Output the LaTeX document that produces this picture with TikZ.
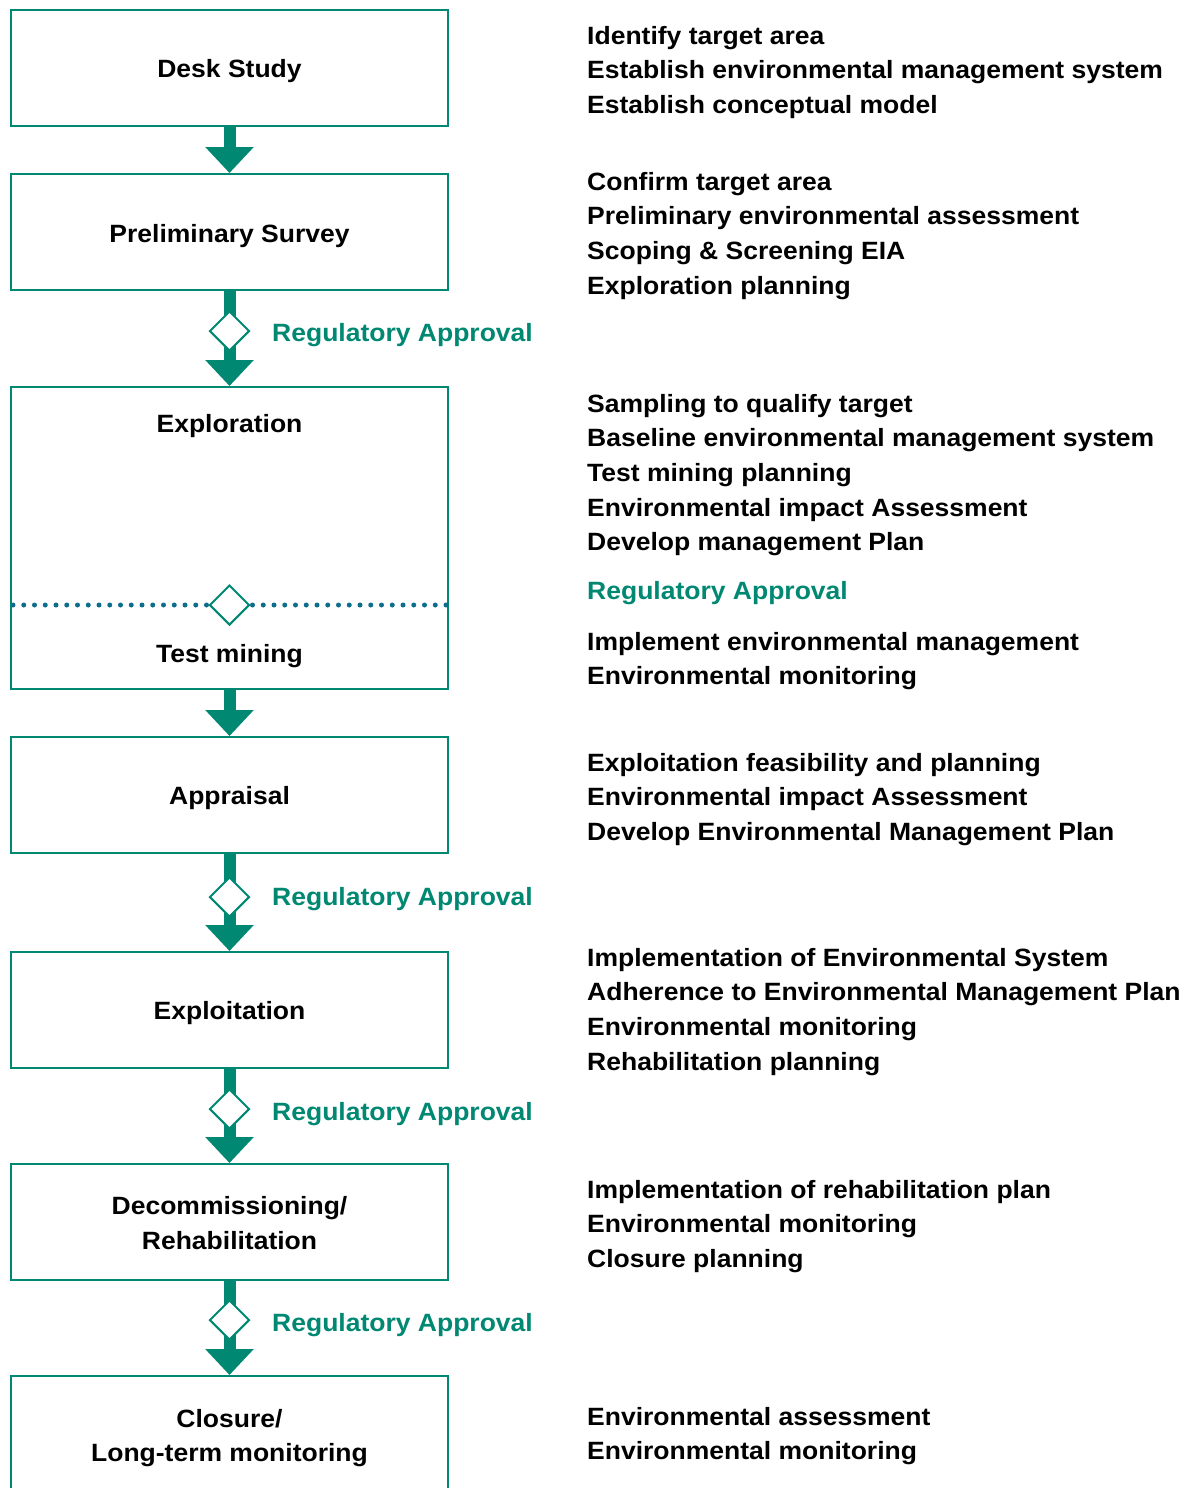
\documentclass[tikz,border=0pt]{standalone}
\usepackage{fontspec}
\setmainfont[FakeStretch=1.06]{Liberation Sans}
\usetikzlibrary{shapes.geometric,arrows.meta,backgrounds}
\definecolor{teal1}{RGB}{0,136,114}
\definecolor{dotc}{RGB}{12,110,140}
\tikzset{
  stage/.style={draw=teal1, line width=2pt, minimum width=437pt, minimum height=116pt, inner sep=0pt},
  gate/.style={diamond, draw=teal1, fill=white, line width=2pt, minimum width=40pt, minimum height=40pt, inner sep=0pt, aspect=1},
  shaft/.style={draw=teal1, line width=12pt},
  flow/.style={shaft, -{Triangle[width=47pt,length=26pt]}},
  info/.style={anchor=north west, align=left, inner sep=0pt, font=\fontsize{25}{34.6}\selectfont\bfseries},
  approval/.style={anchor=base west, inner sep=0pt, text=teal1, font=\fontsize{25}{30}\selectfont\bfseries},
  plain/.style={anchor=base, inner sep=0pt, font=\fontsize{25}{30}\selectfont\bfseries},
  dots/.style={dotc, line width=5pt, line cap=round, dash pattern=on 0pt off 10.75pt},
}
\begin{document}
\begin{tikzpicture}[x=1pt,y=-1pt]
\useasboundingbox (0,0) rectangle (1187,1488);
\clip (0,0) rectangle (1187,1488);
% boxes
\node[stage] (desk) at (229.5,68) {};
\node[stage] (prelim) at (229.5,232) {};
\node[stage, minimum height=302pt] (explor) at (229.5,538) {};
\node[stage] (apprais) at (229.5,795) {};
\node[stage] (exploit) at (229.5,1010) {};
\node[stage] (decom) at (229.5,1222) {};
\node[stage] (closure) at (229.5,1434) {};
% box labels
\node[plain] (desklab) at (229.5,77.5) {Desk Study};
\node[plain] (prelimlab) at (229.5,242) {Preliminary Survey};
\node[plain] (explorlab) at (229.5,432) {Exploration};
\node[plain] (testlab) at (229.5,662) {Test mining};
\node[plain] (appraislab) at (229.5,804) {Appraisal};
\node[plain] (exploitlab) at (229.5,1019) {Exploitation};
\node[plain] (decomlab1) at (229.5,1214) {Decommissioning/};
\node[plain] (decomlab2) at (229.5,1249) {Rehabilitation};
\node[plain] (closurelab1) at (229.5,1427) {Closure/};
\node[plain] (closurelab2) at (229.5,1461) {Long-term monitoring};
% gates
\node[gate] (g1) at (229.5,331) {};
\node[gate] (g2) at (229.5,605) {};
\node[gate] (g3) at (229.5,897) {};
\node[gate] (g4) at (229.5,1109) {};
\node[gate] (g5) at (229.5,1320) {};
% dotted separator
\coordinate (dl) at (explor.west |- g2);
\coordinate (dr) at (explor.east |- g2);
\begin{scope}[on background layer]
\draw[flow] (desk.south) -- (prelim.north);
\draw[shaft] (prelim.south) -- (g1.center);
\draw[flow] (g1.center) -- (explor.north);
\draw[flow] (explor.south) -- (apprais.north);
\draw[shaft] (apprais.south) -- (g3.center);
\draw[flow] (g3.center) -- (exploit.north);
\draw[shaft] (exploit.south) -- (g4.center);
\draw[flow] (g4.center) -- (decom.north);
\draw[shaft] (decom.south) -- (g5.center);
\draw[flow] (g5.center) -- (closure.north);
\end{scope}
\draw[dots, shorten <=3pt] (dl) -- (g2.west);
\draw[dots, shorten <=3pt] (dr) -- (g2.east);
% approvals
\node[approval] (a1) at (272,341.5) {Regulatory Approval};
\node[approval] (a3) at (272,905.5) {Regulatory Approval};
\node[approval] (a4) at (272,1120.5) {Regulatory Approval};
\node[approval] (a5) at (272,1331.5) {Regulatory Approval};
\node[approval] (a2) at (587,599.5) {Regulatory Approval};
% info texts
\node[info] (t1) at (587,26) {Identify target area\\Establish environmental management system\\Establish conceptual model};
\node[info] (t2) at (587,172) {Confirm target area\\Preliminary environmental assessment\\Scoping \& Screening EIA\\Exploration planning};
\node[info] (t3) at (587,394) {Sampling to qualify target\\Baseline environmental management system\\Test mining planning\\Environmental impact Assessment\\Develop management Plan};
\node[info] (t4) at (587,632) {Implement environmental management\\Environmental monitoring};
\node[info] (t5) at (587,753) {Exploitation feasibility and planning\\Environmental impact Assessment\\Develop Environmental Management Plan};
\node[info] (t6) at (587,948) {Implementation of Environmental System\\Adherence to Environmental Management Plan\\Environmental monitoring\\Rehabilitation planning};
\node[info] (t7) at (587,1180) {Implementation of rehabilitation plan\\Environmental monitoring\\Closure planning};
\node[info] (t8) at (587,1407) {Environmental assessment\\Environmental monitoring};
\end{tikzpicture}
\end{document}
